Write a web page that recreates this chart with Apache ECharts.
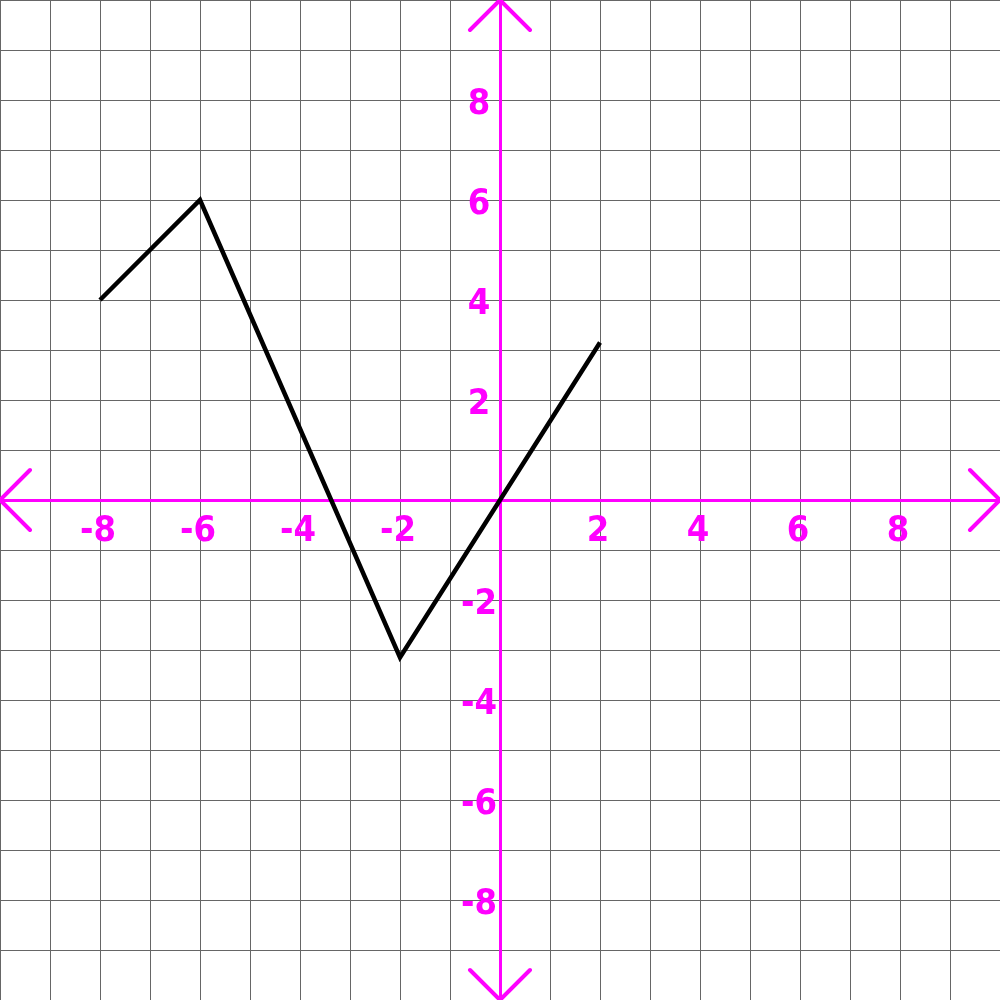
<!DOCTYPE html>
<html>
<head>
<meta charset="utf-8">
<script src="https://cdn.jsdelivr.net/npm/echarts@6/dist/echarts.min.js"></script>
<style>html,body{margin:0;padding:0;background:#fff}#c{width:1000px;height:1000px}</style>
</head>
<body>
<div id="c"></div>
<script>
// Data
var xRange = [-10, 10];
var yRange = [-10, 10];
var tickLabels = [-8, -6, -4, -2, 2, 4, 6, 8];
var lineX = [-8, -6, -2, 0, 2];
var lineY = [4, 6, -3.15, 0, 3.15];
// arrowheads (chevrons) at the axis ends, in data units
var arrowRight = [[9.4, 0.6], [10, 0], [9.4, -0.6]];
var arrowLeft = [[-9.4, 0.6], [-10, 0], [-9.4, -0.6]];
var arrowTop = [[-0.6, 9.4], [0, 10], [0.6, 9.4]];
var arrowBottom = [[-0.6, -9.4], [0, -10], [0.6, -9.4]];

var MAG = '#ff00ff';
var FONT = '"Liberation Sans Narrow", "DejaVu Sans Condensed", "Liberation Sans", sans-serif';

var lineData = lineX.map(function (x, i) { return [x, lineY[i]]; });
var xLabelData = tickLabels.map(function (v) { return [v, 0, v]; });
var yLabelData = tickLabels.map(function (v) { return [0, v, v]; });

function arrowSeries(d) {
  return { type: 'line', data: d, symbol: 'none', silent: true, z: 5,
    lineStyle: { color: MAG, width: 4, cap: 'round', join: 'round' } };
}
function labelSeries(d, offset) {
  return { type: 'scatter', data: d, symbolSize: 0, silent: true, z: 6,
    itemStyle: { color: MAG, opacity: 1 },
    label: { show: true, position: 'inside', offset: offset,
      formatter: function (p) { return String(p.value[2]); },
      color: MAG, opacity: 1, textBorderWidth: 0, textBorderColor: 'transparent',
      fontSize: 36, fontWeight: 'bold', fontFamily: FONT } };
}

var chart = echarts.init(document.getElementById('c'));
chart.setOption({
  backgroundColor: '#ffffff',
  animation: false,
  grid: { left: 0, right: 0, top: 0, bottom: 0, containLabel: false, outerBoundsMode: 'none' },
  xAxis: {
    type: 'value', min: xRange[0], max: xRange[1], interval: 1,
    axisLine: { onZero: true, lineStyle: { color: MAG, width: 3 } },
    axisTick: { show: false },
    splitLine: { show: true, lineStyle: { color: '#666666', width: 1 } },
    axisLabel: { show: false }
  },
  yAxis: {
    type: 'value', min: yRange[0], max: yRange[1], interval: 1,
    axisLine: { onZero: true, lineStyle: { color: MAG, width: 3 } },
    axisTick: { show: false },
    splitLine: { show: true, lineStyle: { color: '#666666', width: 1 } },
    axisLabel: { show: false }
  },
  series: [
    { type: 'line', data: lineData, symbol: 'none', z: 10,
      lineStyle: { color: '#000000', width: 4.5, join: 'miter', cap: 'butt' } },
    arrowSeries(arrowRight), arrowSeries(arrowLeft), arrowSeries(arrowTop), arrowSeries(arrowBottom),
    labelSeries(xLabelData, [-2, 32]),
    labelSeries(yLabelData, [-21, 5])
  ]
});
</script>
</body>
</html>
